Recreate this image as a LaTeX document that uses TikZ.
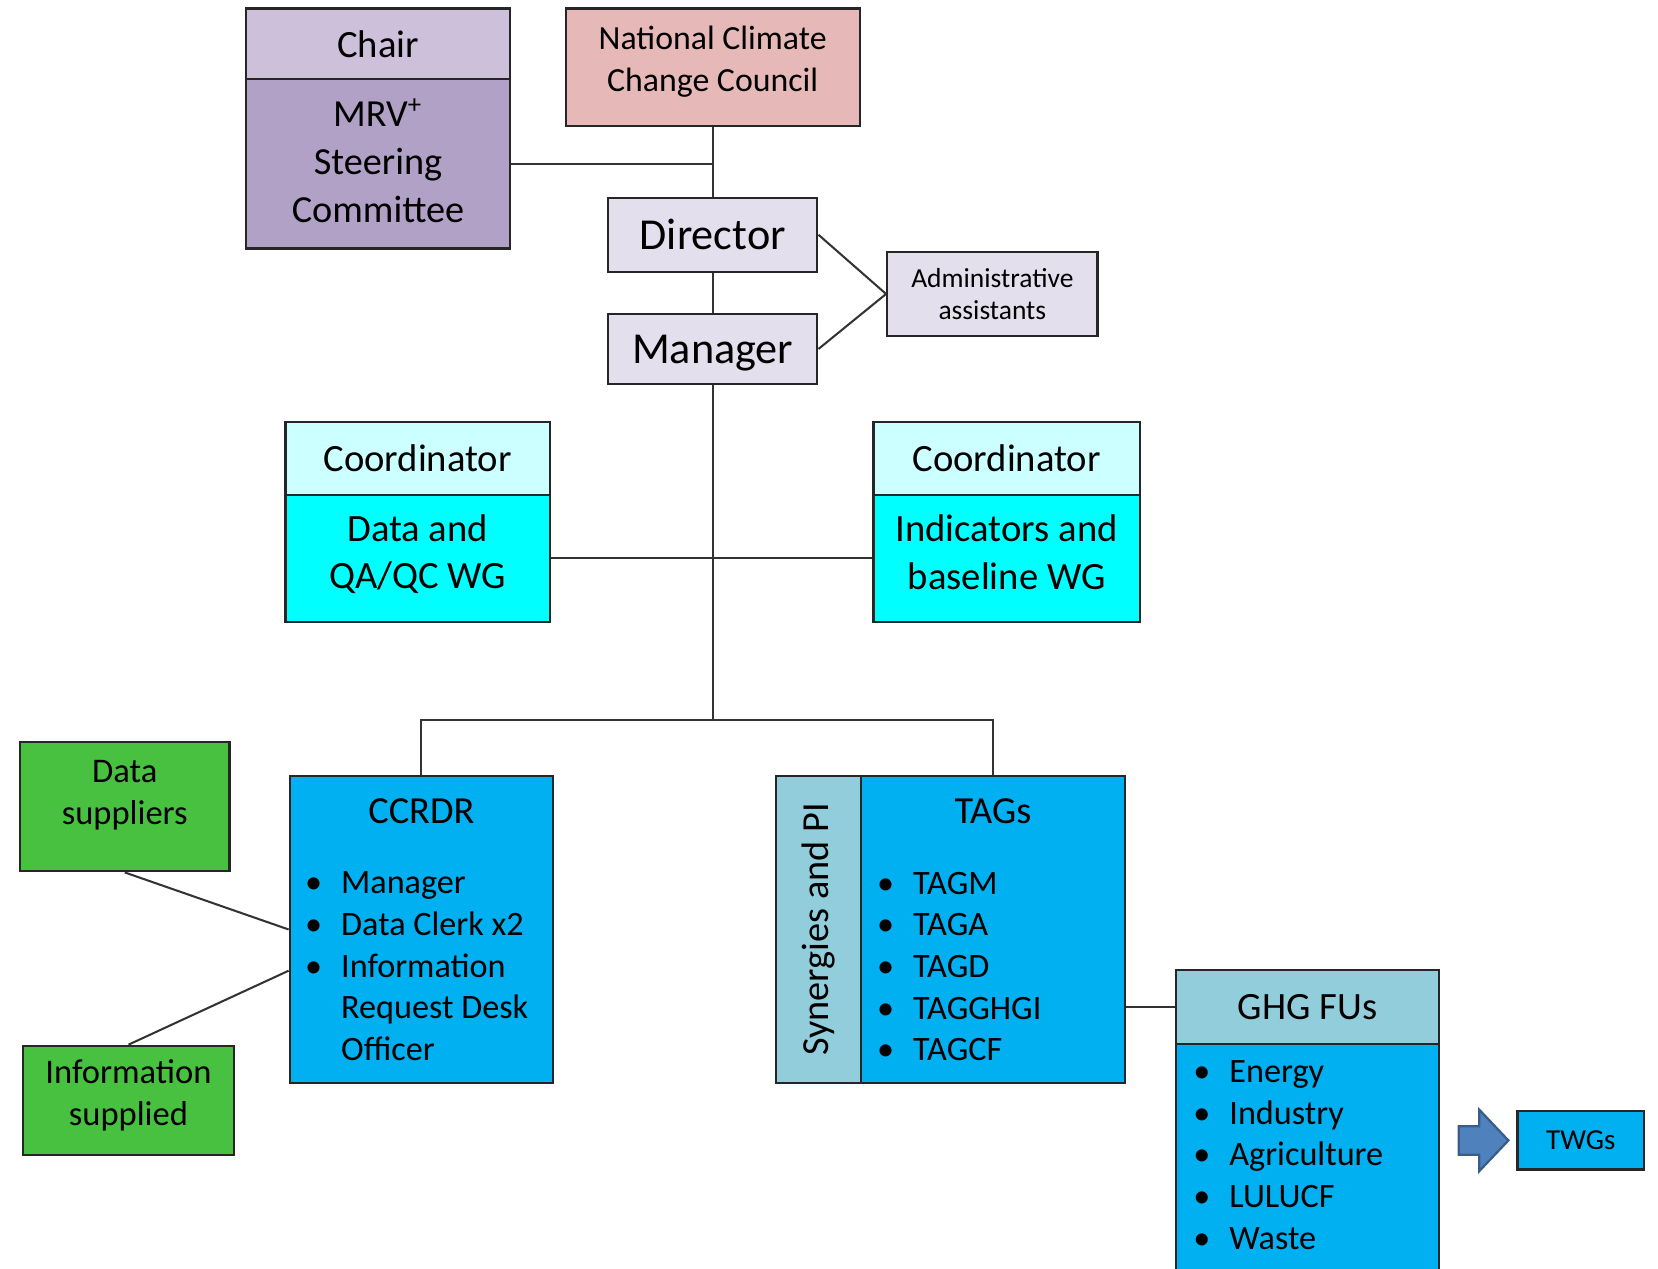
\documentclass[tikz,border=0pt]{standalone}
\usepackage{fontspec}
\setmainfont{Carlito}
\usepackage{tikz}
\usetikzlibrary{shapes.geometric, arrows}
\definecolor{chairlila}{RGB}{204,192,218}
\definecolor{mrvlila}{RGB}{178,161,199}
\definecolor{councilrosa}{RGB}{230,185,184}
\definecolor{staffgrigio}{RGB}{228,223,236}
\definecolor{coordciano}{RGB}{204,255,255}
\definecolor{wgciano}{RGB}{0,255,255}
\definecolor{verde}{RGB}{72,193,64}
\definecolor{azzurro}{RGB}{0,176,240}
\definecolor{azzurrochiaro}{RGB}{146,205,220}
\definecolor{frecciablu}{RGB}{79,129,189}
\definecolor{frecciabordo}{RGB}{56,93,138}
\newcommand{\punto}[1]{\makebox[0.2cm][c]{\textbullet}\hspace*{0.16cm}#1}
\newcommand{\rientro}{\hspace*{0.36cm}}
\newcommand{\giu}[1]{\rule[-#1]{0pt}{0pt}}
\tikzstyle{block} = [rectangle, draw=black!85, line width=0.6pt, text centered, align=center, inner sep=0pt]
\tikzstyle{chairbox} = [block, fill=chairlila, minimum width=2.49cm, minimum height=0.67cm, font=\fontsize{10.4}{12.9}\selectfont]
\tikzstyle{mrvbox} = [block, fill=mrvlila, minimum width=2.49cm, minimum height=1.60cm, font=\fontsize{10.3}{12.9}\selectfont]
\tikzstyle{councilbox} = [block, fill=councilrosa, minimum width=2.78cm, minimum height=1.11cm, font=\fontsize{9.1}{11.4}\selectfont]
\tikzstyle{staffbox} = [block, fill=staffgrigio, minimum width=1.98cm, font=\fontsize{11.9}{14}\selectfont]
\tikzstyle{adminbox} = [block, fill=staffgrigio, minimum width=1.99cm, minimum height=0.80cm, font=\fontsize{7.4}{8.5}\selectfont]
\tikzstyle{coordbox} = [block, fill=coordciano, minimum width=2.50cm, minimum height=0.69cm, font=\fontsize{10.4}{12.8}\selectfont]
\tikzstyle{wgbox} = [block, fill=wgciano, minimum width=2.50cm, minimum height=1.20cm, font=\fontsize{10.4}{12.8}\selectfont]
\tikzstyle{greenbox} = [block, fill=verde, minimum width=1.98cm, minimum height=1.22cm, font=\fontsize{9.3}{11.4}\selectfont]
\tikzstyle{unitbox} = [block, fill=azzurro, minimum width=2.49cm, minimum height=2.90cm]
\tikzstyle{synbox} = [block, fill=azzurrochiaro, minimum width=0.80cm, minimum height=2.90cm]
\tikzstyle{ghgheadbox} = [block, fill=azzurrochiaro, minimum width=2.49cm, minimum height=0.70cm, font=\fontsize{10.4}{12.8}\selectfont]
\tikzstyle{twgsbox} = [block, fill=azzurro, minimum width=1.20cm, minimum height=0.55cm, font=\fontsize{7.8}{9}\selectfont]
\tikzstyle{titletxt} = [inner sep=0pt, font=\fontsize{10.3}{12.8}\selectfont]
\tikzstyle{listtxt} = [inner sep=0pt, align=left, font=\fontsize{9.2}{11.2}\selectfont]
\tikzstyle{link} = [draw=black!80, line width=0.55pt]
\tikzstyle{bigarrow} = [fill=frecciablu, draw=frecciabordo, line width=0.6pt, line join=miter]

\begin{document}
\begin{tikzpicture}[node distance=0.3cm]
\useasboundingbox (0,0) rectangle (15.68,-12);

% Vertice
\node (council) [councilbox] at (6.74,-0.635) {National Climate\\Change Council\giu{0.16cm}};
\node (director) [staffbox, minimum height=0.70cm, below of=council, yshift=-1.285cm] {Director};
\node (manager) [staffbox, minimum height=0.66cm, text depth=0pt, below of=director, yshift=-0.78cm] {Manager};
\node (admin) [adminbox, right of=director, xshift=2.345cm, yshift=-0.56cm] {Administrative\\assistants};
\node (chair) [chairbox, left of=council, xshift=-2.865cm, yshift=0.22cm] {Chair};
\node (mrv) [mrvbox, below of=chair, yshift=-0.835cm] {MRV\textsuperscript{+}\\Steering\\Committee\giu{0.06cm}};

% Gruppi di lavoro
\node (dataqa) [wgbox, below of=manager, xshift=-2.79cm, yshift=-1.68cm] {Data and\\QA/QC WG\giu{0.13cm}};
\node (coordl) [coordbox, above of=dataqa, yshift=0.645cm] {Coordinator};
\node (indic) [wgbox, minimum width=2.52cm, right of=dataqa, xshift=5.27cm] {Indicators and\\baseline WG\giu{0.12cm}};
\node (coordr) [coordbox, minimum width=2.52cm, above of=indic, yshift=0.645cm] {Coordinator};

% Unita' operative
\node (ccrdr) [unitbox, below of=dataqa, xshift=0.035cm, yshift=-3.21cm] {};
\node (tags) [unitbox, minimum width=2.50cm, right of=ccrdr, xshift=5.105cm] {};
\node (syn) [synbox, left of=tags, xshift=-1.35cm] {};
\node (suppliers) [greenbox, left of=ccrdr, xshift=-2.505cm, yshift=1.16cm] {Data\\suppliers\giu{0.27cm}};
\node (infosup) [greenbox, minimum width=1.99cm, minimum height=1.03cm, below of=suppliers, xshift=0.035cm, yshift=-2.475cm] {Information\\supplied\giu{0.15cm}};
\node (ghghead) [ghgheadbox, right of=tags, xshift=2.675cm, yshift=-0.73cm] {GHG FUs};
\node (ghgbody) [unitbox, minimum height=2.14cm, below of=ghghead, yshift=-1.12cm] {};
\node (twgs) [twgsbox, right of=ghgbody, xshift=2.285cm, yshift=0.155cm] {TWGs};
\coordinate [left of=twgs, xshift=-0.62cm] (freccia);

% Testi dentro i box
\node (ccrdrtitle) [titletxt, anchor=north] at ([yshift=-0.215cm]ccrdr.north) {CCRDR};
\node (ccrdrlist) [listtxt, anchor=north west] at ([xshift=0.13cm, yshift=-0.91cm]ccrdr.north west) {\punto{Manager}\\\punto{Data Clerk x2}\\\punto{Information}\\\rientro Request Desk\\\rientro Officer};
\node (tagstitle) [titletxt, anchor=north] at ([yshift=-0.215cm]tags.north) {TAGs};
\node (tagslist) [listtxt, anchor=north west] at ([xshift=0.14cm, yshift=-0.91cm]tags.north west) {\punto{TAGM}\\\punto{TAGA}\\\punto{TAGD}\\\punto{TAGGHGI}\\\punto{TAGCF}};
\node (syntxt) [titletxt, rotate=90] at (syn) {Synergies and PI};
\node (ghglist) [listtxt, anchor=north west] at ([xshift=0.15cm, yshift=-0.165cm]ghgbody.north west) {\punto{Energy}\\\punto{Industry}\\\punto{Agriculture}\\\punto{LULUCF}\\\punto{Waste}};

% Collegamenti
\draw [link] (council) -- (director);
\draw [link] (mrv.east) -- (mrv.east -| council.south);
\draw [link] (director) -- (manager);
\draw [link] (director.east) -- (admin.west);
\draw [link] (manager.east) -- (admin.west);
\coordinate [yshift=0.52cm] (hub) at (manager.south |- ccrdr.north);
\draw [link] (manager) -- (hub);
\draw [link] (ccrdr.north) |- (hub) -| (tags.north);
\draw [link] (dataqa) -- (indic);
\draw [link] (suppliers.south) -- (ccrdr.west);
\draw [link] (infosup.north) -- ([yshift=-0.39cm]ccrdr.west);
\draw [link] (ghghead.west -| tags.east) -- (ghghead.west);
\draw [bigarrow, shift={(freccia)}] (-0.235,0.135) -- (-0.04,0.135) -- (-0.04,0.29) -- (0.235,0) -- (-0.04,-0.29) -- (-0.04,-0.135) -- (-0.235,-0.135) -- cycle;

\end{tikzpicture}
\end{document}
